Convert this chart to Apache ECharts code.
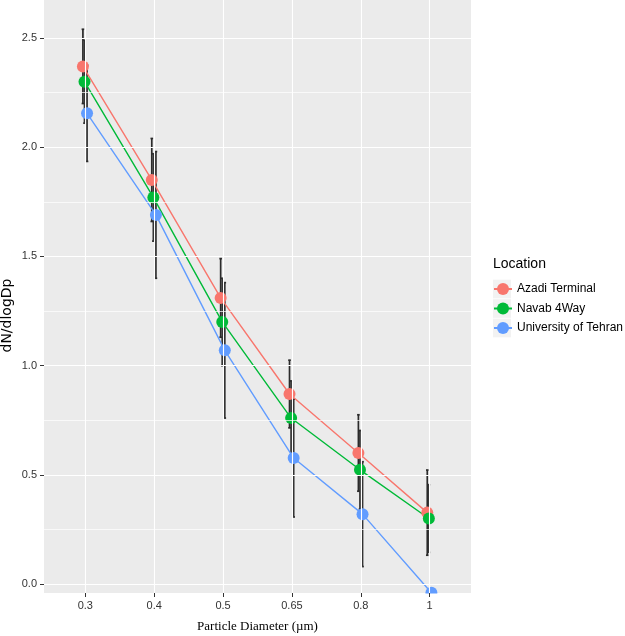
<!DOCTYPE html>
<html>
<head>
<meta charset="utf-8">
<script src="https://cdn.jsdelivr.net/npm/echarts@6/dist/echarts.min.js"></script>
<style>
html,body{margin:0;padding:0;background:#fff;}
#chart{width:625px;height:636px;}
</style>
</head>
<body>
<div id="chart"></div>
<script>
// ---- data ----
var categories = ['0.3', '0.4', '0.5', '0.65', '0.8', '1'];
var seriesNames = ['Azadi Terminal', 'Navab 4Way', 'University of Tehran'];
var azadi      = [2.37, 1.85, 1.31, 0.87, 0.60, 0.327];
var azadiErr   = [0.17, 0.19, 0.18, 0.155, 0.175, 0.195];
var navab      = [2.30, 1.77, 1.20, 0.76, 0.523, 0.30];
var navabErr   = [0.19, 0.20, 0.20, 0.17, 0.18, 0.155];
var tehran     = [2.155, 1.69, 1.07, 0.577, 0.32, -0.04];
var tehranErr  = [0.22, 0.29, 0.31, 0.27, 0.24, null];
var yTicks = [0, 0.5, 1.0, 1.5, 2.0, 2.5];
var yMinorTicks = [0.25, 0.75, 1.25, 1.75, 2.25];
var xTitle = 'Particle Diameter (µm)';
var yTitle = 'dN/dlogDp';
var legendTitle = 'Location';

// ---- styling ----
var colors = ['#F8766D', '#00BA38', '#619CFF'];
var dodge = [-0.035, -0.012, 0.025];
var yMin = -0.041, yMax = 2.674;

var values = [azadi, navab, tehran];
var errs = [azadiErr, navabErr, tehranErr];
var catIdx = categories.map(function (c, i) { return i; });

function renderErr(params, api) {
  var x = api.value(0), lo = api.value(1), hi = api.value(2);
  var p1 = api.coord([x, hi]), p2 = api.coord([x, lo]);
  var w = 1.3;
  var st = { stroke: '#2b2b2b', lineWidth: 1.7 };
  return {
    type: 'group',
    children: [
      { type: 'line', shape: { x1: p1[0], y1: p1[1], x2: p2[0], y2: p2[1] }, style: st },
      { type: 'line', shape: { x1: p1[0] - w, y1: p1[1], x2: p1[0] + w, y2: p1[1] }, style: st },
      { type: 'line', shape: { x1: p2[0] - w, y1: p2[1], x2: p2[0] + w, y2: p2[1] }, style: st }
    ]
  };
}

var series = [];
// grid lines
var gridLines = [];
catIdx.forEach(function (i) { gridLines.push({ xAxis: i, lineStyle: { width: 1.1 } }); });
yTicks.forEach(function (v) { gridLines.push({ yAxis: v, lineStyle: { width: 1.1 } }); });
yMinorTicks.forEach(function (v) { gridLines.push({ yAxis: v, lineStyle: { width: 0.7 } }); });
series.push({
  type: 'line', name: '_grid', data: [], z: 1, silent: true,
  markLine: {
    silent: true, symbol: 'none', animation: false,
    label: { show: false },
    lineStyle: { color: '#ffffff', type: 'solid' },
    emphasis: { disabled: true },
    data: gridLines
  }
});
// error bars
values.forEach(function (vals, s) {
  var d = [];
  vals.forEach(function (v, i) {
    var e = errs[s][i];
    if (e !== null) d.push([i + dodge[s], v - e, v + e]);
  });
  series.push({
    type: 'custom', name: seriesNames[s] + ' error', data: d, z: 2,
    renderItem: renderErr, silent: true, animation: false,
    encode: { x: 0, y: [1, 2] }
  });
});
// lines + points
values.forEach(function (vals, s) {
  series.push({
    type: 'line', name: seriesNames[s], z: 3,
    data: vals.map(function (v, i) { return [i + dodge[s], v]; }),
    symbol: 'circle', symbolSize: 12, showSymbol: true,
    lineStyle: { color: colors[s], width: 1.4 },
    itemStyle: { color: colors[s] },
    animation: false
  });
});

var legendCenters = [289, 308.5, 328];
var graphics = legendCenters.map(function (c) {
  return {
    type: 'rect', z: 1,
    shape: { x: 493, y: c - 9.3, width: 18, height: 18.6 },
    style: { fill: '#F2F2F2' }
  };
});
// white mask below panel (clips half the bottom point like the reference)
graphics.push({
  type: 'rect', z: 50,
  shape: { x: 418, y: 593.5, width: 30, height: 10 },
  style: { fill: '#ffffff' }
});
// y-axis title
graphics.push({
  type: 'text', z: 10, x: 7, y: 315.5, rotation: Math.PI / 2,
  style: {
    text: yTitle, fill: '#000', font: '14px "DejaVu Sans"',
    textAlign: 'center', textVerticalAlign: 'middle'
  }
});

var chart = echarts.init(document.getElementById('chart'), null, { renderer: 'canvas' });
chart.setOption({
  backgroundColor: '#ffffff',
  animation: false,
  textStyle: { fontFamily: 'Liberation Sans' },
  title: {
    text: legendTitle, left: 493, top: 257, padding: 0,
    textStyle: { fontSize: 14, fontWeight: 'normal', color: '#000', fontFamily: 'Liberation Sans' }
  },
  legend: {
    data: seriesNames, orient: 'vertical', left: 493, top: 283, padding: 0,
    itemWidth: 18, itemHeight: 15, itemGap: 7.5,
    textStyle: { fontSize: 12, color: '#000', fontFamily: 'Liberation Sans' },
    selectedMode: false
  },
  graphic: graphics,
  grid: {
    left: 44, top: 0, width: 427, height: 593,
    outerBoundsMode: 'none', containLabel: false,
    show: true, backgroundColor: '#EBEBEB', borderWidth: 0
  },
  xAxis: {
    type: 'value', min: -0.6, max: 5.6, z: 60, position: 'bottom',
    name: xTitle, nameLocation: 'middle', nameGap: 27, nameMoveOverlap: false,
    nameTextStyle: { fontFamily: 'Liberation Serif', fontSize: 13, color: '#000' },
    axisLine: { show: false, onZero: false },
    axisTick: { show: true, customValues: catIdx, length: 4, lineStyle: { color: '#333', width: 1 } },
    axisLabel: {
      customValues: catIdx, fontSize: 11, color: '#333', margin: 7,
      formatter: function (v) { return categories[Math.round(v)]; }
    },
    splitLine: { show: false }
  },
  yAxis: {
    type: 'value', min: yMin, max: yMax, position: 'left',
    axisLine: { show: false, onZero: false },
    axisTick: { show: true, customValues: yTicks, length: 4, lineStyle: { color: '#333', width: 1 } },
    axisLabel: {
      customValues: yTicks, fontSize: 11, color: '#333', margin: 7,
      formatter: function (v) { return v.toFixed(1); }
    },
    splitLine: { show: false }
  },
  series: series
});
</script>
</body>
</html>
